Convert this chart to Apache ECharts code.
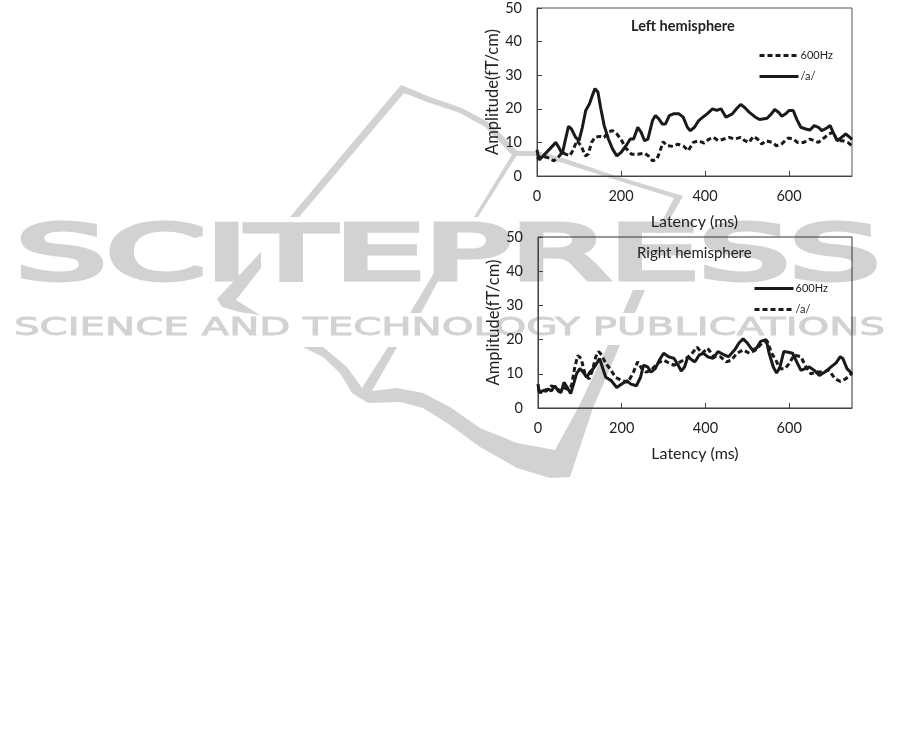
<!DOCTYPE html>
<html><head><meta charset="utf-8">
<style>html,body{margin:0;padding:0;background:#fff}#c{width:901px;height:738px}</style>
<script src="https://cdn.jsdelivr.net/npm/echarts@6/dist/echarts.min.js"></script>
</head><body><div id="c"></div>
<script>
const leftTone = [[0,5],[5,5.5],[15,5.8],[25,5.5],[40,4.5],[50,5.5],[60,7],[68,6.5],[78,6],[85,7.5],[95,10.5],[105,9],[115,6],[122,6.5],[130,10],[138,11.5],[150,11.8],[160,11.5],[170,13.2],[180,13.5],[190,12.5],[200,11],[210,8.5],[225,6.5],[240,6.5],[255,6.8],[265,6],[275,4.5],[285,5],[292,7],[300,10.2],[310,9],[325,8.8],[335,9.5],[350,8.8],[360,7.5],[372,10],[385,10.5],[398,9.8],[410,11],[420,11.5],[432,10.5],[445,11],[458,11.5],[470,11],[485,11.5],[495,10.5],[505,10],[515,11.8],[525,11],[535,9.5],[545,10.5],[560,10],[570,9],[582,9.5],[598,11.3],[610,11],[620,10],[635,10],[650,11],[660,10.5],[670,10],[680,11],[695,12.5],[705,13],[715,10.5],[728,10.5],[740,10],[750,9]];
const leftVowel = [[0,7.8],[5,4.8],[15,6],[30,8],[45,10],[52,8.5],[60,6.5],[68,11],[75,14.8],[82,14],[92,11.5],[100,10.5],[108,14.5],[116,19.5],[125,21.5],[132,24],[138,26],[145,25],[152,20],[160,15],[170,11],[180,8],[190,6],[200,7],[212,9],[222,11],[230,11],[240,14.5],[248,13],[256,10.5],[264,11],[275,16.5],[282,18],[290,17],[298,15.5],[306,15.5],[315,18],[325,18.5],[338,18.5],[348,17.5],[358,14.5],[365,13.5],[375,14.5],[385,16.5],[395,17.5],[405,18.5],[418,20],[428,19.5],[438,20],[450,17.5],[465,18.5],[475,20],[485,21.3],[495,20.3],[505,19],[520,17.5],[530,16.8],[548,17.2],[558,18.5],[566,19.8],[575,19],[583,17.8],[592,18.5],[600,19.5],[610,19.5],[618,17],[628,14.5],[640,14],[650,13.7],[660,15],[670,14.5],[678,13.5],[690,14.3],[698,15],[705,13],[715,10.5],[725,11.5],[735,12.5],[745,11.5],[750,10.8]];
const rightTone = [[0,7],[3,4.5],[15,5.2],[25,5.5],[32,5],[40,6.5],[48,5],[55,4.5],[62,7.5],[70,6],[78,4.2],[85,7],[92,10],[100,11.5],[108,10.5],[116,9],[124,10.5],[132,11.5],[140,13],[147,14.5],[155,11.5],[162,9],[175,8],[188,6],[200,7],[212,8],[222,7],[235,6.5],[245,9],[252,12.5],[262,12],[270,10.5],[280,11.5],[290,14],[300,16],[312,15],[325,14.5],[335,12.5],[342,10.8],[350,12],[358,15],[368,14],[375,13.5],[385,15.5],[395,16],[405,15],[418,14.5],[430,16.5],[445,15.5],[455,15],[470,17],[480,19],[490,20.2],[500,19],[512,17],[522,17.5],[532,19.5],[545,20],[552,16],[562,12],[570,10.2],[578,12],[587,16.5],[598,16.3],[608,16],[618,13.5],[628,11],[638,11.5],[648,12],[660,11],[672,9.5],[685,10.5],[700,12],[712,13.2],[722,15],[728,14.5],[738,11.5],[750,10]];
const rightVowel = [[0,5.5],[8,4.5],[20,5],[32,6.5],[42,6],[52,5],[60,6],[70,5.5],[80,6.5],[88,12],[95,15.3],[103,14.5],[112,10],[122,8.5],[130,11],[138,15],[145,16.5],[152,15.5],[162,13],[172,11.5],[185,9],[200,8],[215,7.5],[228,10.5],[238,13.5],[248,11.5],[258,10.5],[270,11],[285,13],[300,14],[315,13],[325,12.5],[340,13.5],[355,14.5],[368,16],[380,17.8],[392,16],[405,17.5],[420,15],[435,15],[450,13.5],[462,14],[475,16],[490,17],[505,16],[520,17],[535,19],[548,19.5],[558,16],[568,14],[578,11.5],[590,11.5],[600,13],[612,15.5],[628,15],[640,12],[652,10],[665,10.5],[678,10.5],[695,11],[710,8.5],[722,7.8],[735,8.5],[750,10.2]];

const FONT = 'Lato';
const INK = '#1a1a1a', WM = '#d2d2d2';
const solid = {color:INK,width:3}, dashed = {color:INK,width:3,type:[5,3]};

const xAxis = g => ({gridIndex:g,type:'value',min:0,max:750,interval:200,name:'Latency (ms)',nameLocation:'middle',nameGap:38,
  nameTextStyle:{fontFamily:FONT,fontSize:16,color:'#222'},splitLine:{show:false},
  axisLine:{lineStyle:{color:'#444'}},axisTick:{inside:true,length:5,lineStyle:{color:'#444'}},
  axisLabel:{fontFamily:FONT,fontSize:14.5,color:'#222',margin:13,showMaxLabel:false}});
const yAxis = g => ({gridIndex:g,type:'value',min:0,max:50,interval:10,name:'Amplitude(fT/cm)',nameLocation:'middle',nameGap:34,
  nameTextStyle:{fontFamily:FONT,fontSize:16.5,color:'#222'},splitLine:{show:false},
  axisLine:{show:true,lineStyle:{color:'#444'}},axisTick:{show:true,inside:true,length:5,lineStyle:{color:'#444'}},
  axisLabel:{fontFamily:FONT,fontSize:14.5,color:'#222',margin:15}});
const line = (name,data,i,ls) => ({name,type:'line',xAxisIndex:i,yAxisIndex:i,data,symbol:'none',lineStyle:ls,itemStyle:{color:INK},z:5,animation:false});
const legend = (names,left,top) => ({data:names,left,top,orient:'vertical',itemWidth:39,itemHeight:10,itemGap:10,itemStyle:{opacity:0},lineStyle:{width:3},
  formatter:n=>n.split(' ').pop(),textStyle:{fontFamily:FONT,fontSize:11,color:'#222',padding:[0,0,0,-3]},selectedMode:false,padding:0});

const mc = document.createElement('canvas').getContext('2d');
function stretched(text,font,x,y,width,lw){
  mc.font = font;
  const s = width/mc.measureText(text).width;
  return {type:'text',z:-10,x,y,scaleX:s,silent:true,
    style:{text,font,fill:WM,stroke:WM,lineWidth:lw,lineJoin:'miter',textVerticalAlign:'top',textAlign:'left'}};
}
const poly = pts => ({type:'polygon',z:-10,silent:true,shape:{points:pts},style:{fill:WM}});
const logo = [
 [[401,85],[290,217],[299,217],[404,93],[427,102],[460,113],[485,127],[513,156],[537,156],[563,163],[613,179],[674,198],[656,233],[662,233],[683,196],[613,175],[563,158],[537,151],[517,151],[490,123],[462,108],[430,97]],
 [[513,153],[474,217],[478,217],[517,155]],
 [[261,252],[217,299],[222,307],[240,312],[260,315],[236,300],[261,268]],
 [[437,268],[445,268],[421,313],[410,313]],
 [[303,347],[323,347],[347,367],[362,388],[388,347],[397,347],[372,391],[397,388],[423,393],[450,407],[480,428],[517,443],[555,450],[578,408],[608,345],[620,345],[593,408],[570,477],[550,478],[517,468],[480,447],[450,425],[423,408],[400,402],[368,403],[352,393],[340,373],[323,357]],
 [[623,313],[633,290],[645,290],[635,313]]
];

const chart = echarts.init(document.getElementById('c'),null,{renderer:'canvas'});
chart.setOption({
  animation:false,backgroundColor:'#fff',
  grid:[
    {left:537,top:8,width:315,height:168,show:true,borderColor:'#555',borderWidth:1,backgroundColor:'transparent'},
    {left:538,top:237,width:314,height:171,show:true,borderColor:'#333',borderWidth:1,backgroundColor:'transparent'}
  ],
  title:[
    {text:'Left hemisphere',left:631,top:19,padding:0,textStyle:{fontFamily:FONT,fontSize:14.5,fontWeight:'bold',color:'#222'}},
    {text:'Right hemisphere',left:637,top:246,padding:0,textStyle:{fontFamily:FONT,fontSize:15,fontWeight:'normal',color:'#222'}}
  ],
  legend:[legend(['L 600Hz','L /a/'],758,50),legend(['R 600Hz','R /a/'],753,283)],
  xAxis:[xAxis(0),xAxis(1)],yAxis:[yAxis(0),yAxis(1)],
  series:[line('L 600Hz',leftTone,0,dashed),line('L /a/',leftVowel,0,solid),line('R 600Hz',rightTone,1,solid),line('R /a/',rightVowel,1,dashed)],
  graphic:{elements:[
    ...logo.map(poly),
    stretched('SCITEPRESS','75px "DejaVu Sans"',16,222,864,5),
    stretched('SCIENCE AND TECHNOLOGY PUBLICATIONS','24px "DejaVu Sans"',14,317,871,0.8)
  ]}
});
</script></body></html>
